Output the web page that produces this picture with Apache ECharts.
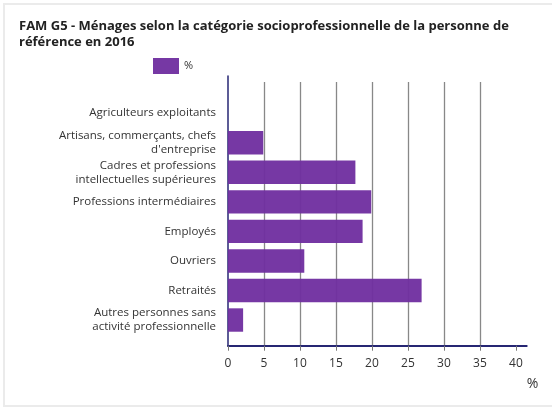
<!DOCTYPE html>
<html>
<head>
<meta charset="utf-8">
<script src="https://cdn.jsdelivr.net/npm/echarts@6/dist/echarts.min.js"></script>
<style>
  html, body { margin: 0; padding: 0; background: #fff; }
  .frame {
    position: absolute; left: 3px; top: 3px; width: 560px; height: 400px;
    border-left: 2px solid #ebebeb; border-top: 2px solid #ebebeb; border-bottom: 2px solid #ebebeb;
  }
  #chart { position: absolute; left: 0; top: 0; width: 552px; height: 407px; }
</style>
</head>
<body>
<div class="frame"></div>
<div id="chart"></div>
<script>
const categories = [
  "Agriculteurs exploitants",
  "Artisans, commerçants, chefs\nd'entreprise",
  "Cadres et professions\nintellectuelles supérieures",
  "Professions intermédiaires",
  "Employés",
  "Ouvriers",
  "Retraités",
  "Autres personnes sans\nactivité professionnelle"
];
const values = [0, 4.9, 17.7, 19.9, 18.7, 10.6, 26.9, 2.1];
const xTicks = [0, 5, 10, 15, 20, 25, 30, 35, 40];
const seriesName = "%";

const navy = "#262673";
const purple = "#7030a0";
const font = "Open Sans";

const chart = echarts.init(document.getElementById("chart"));

const option = {
  animation: false,
  textStyle: { fontFamily: font },
  title: {
    text: "FAM G5 - Ménages selon la catégorie socioprofessionnelle de la personne de\nréférence en 2016",
    left: 19,
    top: 18,
    padding: 0,
    textStyle: { fontSize: 13, fontWeight: "bold", color: "#222", lineHeight: 16, fontFamily: font }
  },
  legend: {
    data: [{ name: seriesName, icon: "rect" }],
    left: 153,
    top: 58,
    padding: 0,
    itemWidth: 26,
    itemHeight: 16,
    itemGap: 6,
    textStyle: { fontSize: 11, color: "#333", fontFamily: font }
  },
  grid: [
    // y axis line
    { left: 228, right: 25.3, top: 76, bottom: 61.3 },
    // x axis, grid lines
    { left: 228, right: 25.3, top: 82, bottom: 61.3 },
    // bars and category labels
    { left: 228, right: 25.3, top: 98.4, bottom: 72.2 }
  ],
  xAxis: [
    { gridIndex: 0, type: "value", min: 0, max: 41.5, show: false },
    {
      gridIndex: 1,
      type: "value",
      min: 0,
      max: 41.5,
      interval: 5,
      name: "%",
      nameLocation: "end",
      nameGap: 0,
      nameTextStyle: { fontSize: 14, color: "#333", verticalAlign: "top", padding: [31, 0, 0, 0], fontFamily: font },
      axisLine: { show: true, lineStyle: { color: navy, width: 2 } },
      axisTick: { show: true, length: 5, lineStyle: { color: "#777" }, customValues: xTicks },
      axisLabel: { fontSize: 12, color: "#333", margin: 12, customValues: xTicks, fontFamily: font },
      splitLine: { show: true, showMinLine: false, showMaxLine: false, lineStyle: { color: "#888", width: 1.3 } }
    },
    { gridIndex: 2, type: "value", min: 0, max: 41.5, show: false }
  ],
  yAxis: [
    {
      gridIndex: 0,
      type: "value",
      min: 0,
      max: 1,
      axisLine: { show: true, lineStyle: { color: navy, width: 1.5 } },
      axisTick: { show: false },
      axisLabel: { show: false },
      splitLine: { show: false }
    },
    { gridIndex: 1, type: "value", show: false, min: 0, max: 1 },
    {
      gridIndex: 2,
      type: "category",
      data: categories,
      inverse: true,
      axisLine: { show: false },
      axisTick: { show: false },
      axisLabel: { fontSize: 11.5, color: "#333", lineHeight: 14, margin: 12, fontFamily: font },
      splitLine: { show: false }
    }
  ],
  series: [
    {
      name: seriesName,
      type: "bar",
      xAxisIndex: 2,
      yAxisIndex: 2,
      data: values,
      barWidth: 23.4,
      itemStyle: { color: purple, opacity: 0.96 }
    }
  ]
};

chart.setOption(option);
</script>
</body>
</html>
